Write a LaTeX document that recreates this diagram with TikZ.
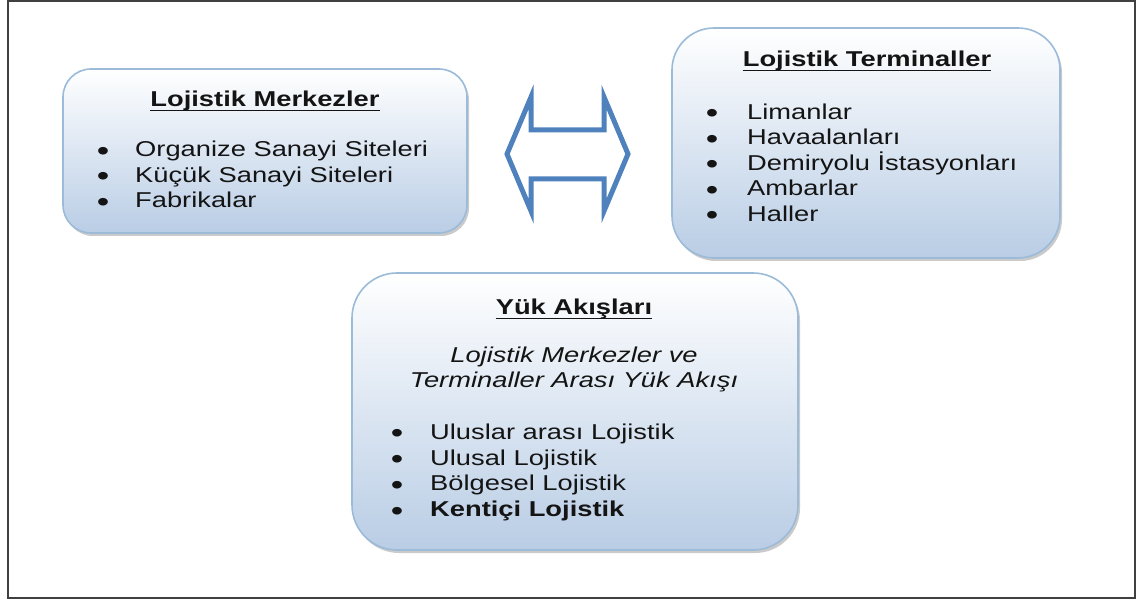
\documentclass[tikz,border=0pt]{standalone}
\usepackage{fontspec}
\setmainfont[FakeStretch=1.27]{Liberation Sans}
\usetikzlibrary{calc,shadows}
\definecolor{boxline}{HTML}{9BBBD9}
\definecolor{boxbot}{HTML}{B9CDE5}
\definecolor{arrowblue}{HTML}{4F81BD}
\definecolor{framegray}{HTML}{404040}
\definecolor{ink}{HTML}{141414}
\tikzset{
  panel/.style={draw=boxline, line width=1.6pt, top color=white, bottom color=boxbot,
    rectangle, inner sep=0pt,
    drop shadow={shadow xshift=2pt, shadow yshift=-3pt, opacity=0.35, fill=black!60}},
  basefont/.style={font=\fontsize{21.5}{25}\selectfont},
  itemtxt/.style={basefont, inner sep=0pt, anchor=base west, text=ink},
  bolditem/.style={itemtxt, font=\fontsize{21.5}{25}\selectfont\bfseries},
  bul/.style={font=\fontsize{28}{30}\selectfont, inner sep=0pt, anchor=base, text=ink, yshift=-3.5pt},
  ttl/.style={inner sep=0pt, anchor=base, text=ink, font=\fontsize{21.5}{25}\selectfont\bfseries},
  itl/.style={inner sep=0pt, anchor=base, text=ink, font=\fontsize{21.5}{25}\selectfont\itshape},
  uline/.style={draw=ink, line width=1.8pt},
  twoway/.style={draw=arrowblue, line width=5pt, line join=miter, miter limit=10}
}
\begin{document}
\begin{tikzpicture}[x=1pt, y=-1pt]
\useasboundingbox (0,0) rectangle (1138,601);
\draw[framegray, line width=2pt] (8,1) rectangle (1135,598);

% panels
\node[panel, rounded corners=28pt, minimum width=404pt, minimum height=164pt] (m) at (265,151) {};
\node[panel, rounded corners=42pt, minimum width=388pt, minimum height=230pt] (t) at (866,143) {};
\node[panel, rounded corners=45pt, minimum width=446pt, minimum height=277pt] (y) at (575,411.5) {};

% double arrow
\draw[twoway] (507,154) -- (531,97) -- (531,130) -- (604,130) -- (604,97) -- (628,154)
  -- (604,211) -- (604,179) -- (531,179) -- (531,211) -- cycle;

% box 1
\node[ttl] (m0) at (265,107) {Lojistik Merkezler};
\draw[uline] ($(m0.base west)+(0,3.5)$) -- ($(m0.base east)+(0,3.5)$);
\node[bul] (mb1) at (103,157) {•};
\node[itemtxt] (m1) at (135,157) {Organize Sanayi Siteleri};
\node[bul] (mb2) at (103,182.5) {•};
\node[itemtxt] (m2) at (135,182.5) {Küçük Sanayi Siteleri};
\node[bul] (mb3) at (103,208) {•};
\node[itemtxt] (m3) at (135,208) {Fabrikalar};

% box 2
\node[ttl] (t0) at (867,67) {Lojistik Terminaller};
\draw[uline] ($(t0.base west)+(0,3.5)$) -- ($(t0.base east)+(0,3.5)$);
\node[bul] (tb1) at (712,119.5) {•};
\node[itemtxt] (t1) at (747,119.5) {Limanlar};
\node[bul] (tb2) at (712,145) {•};
\node[itemtxt] (t2) at (747,145) {Havaalanları};
\node[bul] (tb3) at (712,170.5) {•};
\node[itemtxt] (t3) at (747,170.5) {Demiryolu İstasyonları};
\node[bul] (tb4) at (712,196) {•};
\node[itemtxt] (t4) at (747,196) {Ambarlar};
\node[bul] (tb5) at (712,221.5) {•};
\node[itemtxt] (t5) at (747,221.5) {Haller};

% box 3
\node[ttl] (y0) at (574,315) {Yük Akışları};
\draw[uline] ($(y0.base west)+(0,3.5)$) -- ($(y0.base east)+(0,3.5)$);
\node[itl] (ya) at (574,363) {Lojistik Merkezler ve};
\node[itl] (yb) at (574,388) {Terminaller Arası Yük Akışı};
\node[bul] (yb1) at (397,439) {•};
\node[itemtxt] (y1) at (430,439) {Uluslar arası Lojistik};
\node[bul] (yb2) at (397,465) {•};
\node[itemtxt] (y2) at (430,465) {Ulusal Lojistik};
\node[bul] (yb3) at (397,490.5) {•};
\node[itemtxt] (y3) at (430,490.5) {Bölgesel Lojistik};
\node[bul] (yb4) at (397,516.5) {•};
\node[bolditem] (y4) at (430,516.5) {Kentiçi Lojistik};
\end{tikzpicture}
\end{document}
